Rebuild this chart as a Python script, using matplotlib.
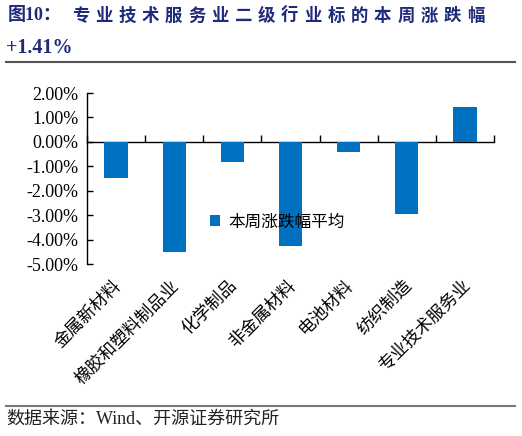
import matplotlib
matplotlib.use('Agg')
import matplotlib.pyplot as plt
from matplotlib.lines import Line2D
from matplotlib.patches import Patch

# 数据
categories = ['金属新材料', '橡胶和塑料制品业', '化学制品', '非金属材料',
              '电池材料', '纺织制造', '专业技术服务业']
values = [-1.48, -4.49, -0.84, -4.26, -0.43, -2.95, 1.41]
yticks = [2, 1, 0, -1, -2, -3, -4, -5]
legend_label = '本周涨跌幅平均'
title_head = '图10：'
title_body = '专业技术服务业二级行业标的本周涨跌幅'
title_line2 = '+1.41%'
source_text = '数据来源：Wind、开源证券研究所'

BLUE = '#0070C0'
NAVY = '#1F2A7A'
CJK = ['Liberation Serif', 'Noto Sans CJK SC']
plt.rcParams['font.family'] = CJK

W, H = 522, 436
fig = plt.figure(figsize=(W / 100, H / 100), dpi=100)
ax = fig.add_axes([87 / W, 1 - 264 / H, 407 / W, 171 / H])

x = list(range(len(categories)))
ax.bar(x, values, width=0.4, color=BLUE, zorder=3)

ax.set_xlim(-0.5, len(categories) - 0.5)
ax.set_ylim(-5, 2)
ax.set_yticks(yticks)
ax.set_yticklabels([f'{v:.2f}%' for v in yticks], family='Liberation Serif', fontsize=13)

for s in ['top', 'right']:
    ax.spines[s].set_visible(False)
ax.spines['bottom'].set_position(('data', 0))
ax.spines['left'].set_linewidth(1.0)
ax.spines['bottom'].set_linewidth(1.0)
ax.tick_params(axis='y', direction='in', length=4, width=1, pad=6)
ax.set_xticks([i + 0.5 for i in range(-1, len(categories))])
ax.set_xticklabels([])
ax.tick_params(axis='x', direction='in', length=5, width=1)

# 类别标签（斜放在图底部）
for i, name in enumerate(categories):
    ax.annotate(name, xy=(i, -5), xycoords='data', xytext=(-3, -9),
                textcoords='offset points', rotation=45, rotation_mode='anchor',
                ha='right', va='top', fontsize=12.5, family='Noto Sans CJK SC')

handle = Patch(facecolor=BLUE, edgecolor='none')
ax.legend([handle], [legend_label], loc='center left', bbox_to_anchor=(0.265, 0.245),
          frameon=False, handlelength=0.6, handleheight=0.6, handletextpad=0.5,
          prop={'family': 'Noto Sans CJK SC', 'size': 12})

# 标题
fig.text(8 / W, 1 - 16 / H, title_head, family=CJK, weight='bold', fontsize=13,
         color=NAVY, ha='left', va='center')
pitch = 23.2
for k, ch in enumerate(title_body):
    fig.text((81 + k * pitch) / W, 1 - 16 / H, ch, family='Noto Sans CJK SC',
             weight='bold', fontsize=12.5, color=NAVY, ha='center', va='center')
fig.text(6 / W, 1 - 48 / H, title_line2, family='Liberation Serif', weight='bold',
         fontsize=14.5, color=NAVY, ha='left', va='center')
fig.add_artist(Line2D([6 / W, 515 / W], [1 - 62 / H] * 2, color='#555555', lw=1.5))

# 底部来源
fig.add_artist(Line2D([6 / W, 515 / W], [1 - 406 / H] * 2, color='#777777', lw=1.5))
fig.text(6 / W, 1 - 419 / H, source_text, family=CJK, fontsize=13,
         color='#222222', ha='left', va='center')

fig.savefig('out.png', dpi=100, facecolor='white')
